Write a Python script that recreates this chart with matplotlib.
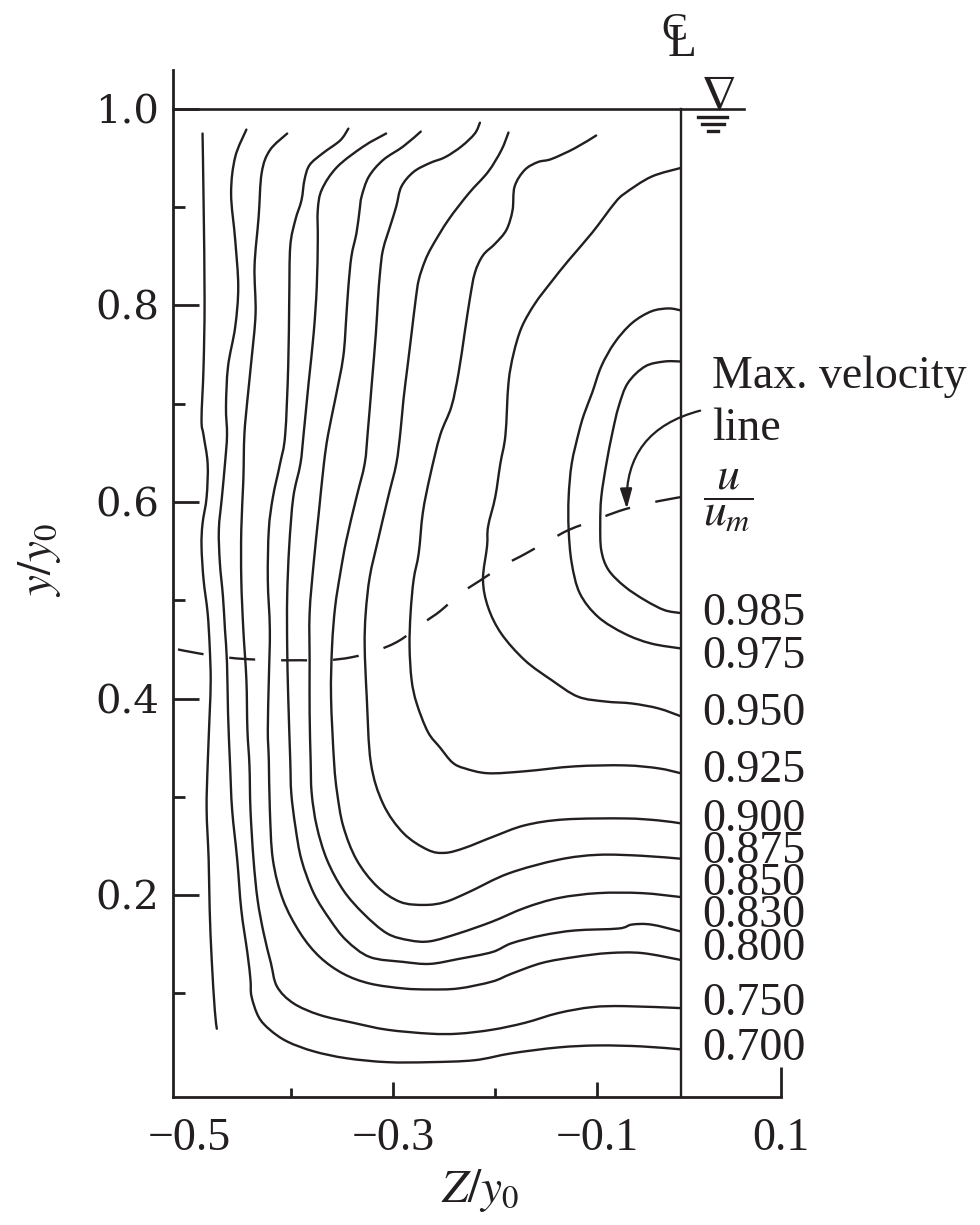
import matplotlib.pyplot as plt
from matplotlib.path import Path
from matplotlib.patches import PathPatch

plt.rcParams['font.family'] = ['Liberation Serif', 'DejaVu Serif']
plt.rcParams['mathtext.fontset'] = 'stix'

INK = '#231f20'

# isovels u/u_m as (Z/y0, y/y0)
z_edge = [-0.487, -0.486, -0.485, -0.486, -0.488, -0.486, -0.482, -0.483, -0.487, -0.488, -0.486,
          -0.482, -0.480, -0.479, -0.480, -0.482, -0.483, -0.481, -0.480, -0.478, -0.475, -0.473]
y_edge = [0.975, 0.907, 0.806, 0.738, 0.684, 0.668, 0.639, 0.605, 0.578, 0.555, 0.521,
          0.487, 0.453, 0.419, 0.385, 0.332, 0.287, 0.236, 0.185, 0.134, 0.083, 0.064]

z_700 = [-0.444, -0.455, -0.459, -0.455, -0.452, -0.455, -0.462, -0.464, -0.463, -0.465, -0.468,
         -0.471, -0.470, -0.467, -0.465, -0.463, -0.462, -0.460, -0.458, -0.453, -0.449, -0.443,
         -0.440, -0.439, -0.432, -0.421, -0.404, -0.378, -0.346, -0.306, -0.264, -0.220, -0.184,
         -0.138, -0.099, -0.056, -0.018]
y_700 = [0.979, 0.951, 0.914, 0.867, 0.819, 0.778, 0.738, 0.697, 0.668, 0.639, 0.605,
         0.572, 0.538, 0.504, 0.470, 0.436, 0.385, 0.332, 0.287, 0.236, 0.185, 0.141,
         0.114, 0.097, 0.076, 0.063, 0.051, 0.041, 0.034, 0.030, 0.030, 0.032, 0.039,
         0.045, 0.047, 0.046, 0.043]

z_750 = [-0.404, -0.421, -0.429, -0.432, -0.436, -0.435, -0.439, -0.443, -0.446, -0.447, -0.449,
         -0.449, -0.447, -0.444, -0.443, -0.441, -0.440, -0.437, -0.433, -0.427, -0.420, -0.414,
         -0.398, -0.372, -0.339, -0.306, -0.264, -0.236, -0.203, -0.171, -0.138, -0.105, -0.073,
         -0.018]
y_750 = [0.975, 0.958, 0.935, 0.890, 0.840, 0.792, 0.745, 0.704, 0.668, 0.622, 0.572,
         0.521, 0.470, 0.419, 0.368, 0.332, 0.287, 0.236, 0.195, 0.161, 0.131, 0.107,
         0.090, 0.078, 0.070, 0.063, 0.059, 0.059, 0.063, 0.070, 0.080, 0.086, 0.087,
         0.085]

z_800 = [-0.344, -0.352, -0.369, -0.382, -0.387, -0.390, -0.396, -0.401, -0.402, -0.403, -0.406,
         -0.411, -0.418, -0.422, -0.423, -0.421, -0.422, -0.423, -0.422, -0.421, -0.418, -0.408,
         -0.391, -0.372, -0.349, -0.323, -0.290, -0.264, -0.236, -0.203, -0.184, -0.154, -0.122,
         -0.089, -0.056, -0.018]
y_800 = [0.980, 0.968, 0.955, 0.943, 0.928, 0.907, 0.887, 0.860, 0.806, 0.738, 0.668,
         0.639, 0.605, 0.572, 0.521, 0.470, 0.419, 0.368, 0.337, 0.287, 0.236, 0.195,
         0.161, 0.137, 0.120, 0.110, 0.105, 0.104, 0.105, 0.112, 0.120, 0.131, 0.137,
         0.141, 0.141, 0.134]

z_830 = [-0.307, -0.329, -0.355, -0.370, -0.374, -0.374, -0.375, -0.378, -0.383, -0.388, -0.391,
         -0.398, -0.402, -0.404, -0.404, -0.403, -0.401, -0.400, -0.396, -0.390, -0.378, -0.362,
         -0.346, -0.323, -0.290, -0.264, -0.236, -0.203, -0.184, -0.154, -0.122, -0.079, -0.066,
         -0.047, -0.018]
y_830 = [0.975, 0.962, 0.941, 0.918, 0.897, 0.867, 0.819, 0.772, 0.721, 0.668, 0.639,
         0.605, 0.555, 0.504, 0.453, 0.402, 0.337, 0.304, 0.270, 0.236, 0.202, 0.175,
         0.154, 0.137, 0.132, 0.130, 0.135, 0.142, 0.151, 0.159, 0.164, 0.166, 0.170,
         0.170, 0.163]

z_850 = [-0.273, -0.290, -0.310, -0.324, -0.331, -0.333, -0.336, -0.341, -0.344, -0.346, -0.349,
         -0.357, -0.364, -0.368, -0.373, -0.378, -0.382, -0.382, -0.382, -0.381, -0.380, -0.375,
         -0.365, -0.349, -0.329, -0.306, -0.284, -0.264, -0.236, -0.203, -0.171, -0.138, -0.099,
         -0.056, -0.018]
y_850 = [0.977, 0.962, 0.948, 0.931, 0.911, 0.897, 0.874, 0.850, 0.819, 0.789, 0.748,
         0.704, 0.668, 0.639, 0.589, 0.538, 0.487, 0.436, 0.385, 0.337, 0.304, 0.270,
         0.236, 0.205, 0.181, 0.161, 0.154, 0.153, 0.161, 0.173, 0.187, 0.197, 0.202,
         0.202, 0.198]

z_875 = [-0.215, -0.220, -0.233, -0.249, -0.264, -0.280, -0.292, -0.297, -0.302, -0.310, -0.313,
         -0.315, -0.317, -0.321, -0.325, -0.328, -0.336, -0.346, -0.352, -0.357, -0.360, -0.361,
         -0.358, -0.355, -0.349, -0.336, -0.316, -0.293, -0.269, -0.249, -0.226, -0.187, -0.138,
         -0.099, -0.056, -0.018]
y_875 = [0.986, 0.975, 0.962, 0.951, 0.945, 0.936, 0.921, 0.901, 0.884, 0.857, 0.833,
         0.806, 0.772, 0.721, 0.671, 0.639, 0.605, 0.561, 0.527, 0.493, 0.453, 0.402,
         0.335, 0.304, 0.270, 0.236, 0.209, 0.193, 0.190, 0.193, 0.203, 0.222, 0.236,
         0.241, 0.240, 0.237]

z_900 = [-0.187, -0.194, -0.207, -0.226, -0.246, -0.262, -0.269, -0.275, -0.278, -0.282, -0.286,
         -0.290, -0.293, -0.297, -0.305, -0.315, -0.323, -0.327, -0.328, -0.326, -0.322, -0.310,
         -0.290, -0.266, -0.249, -0.230, -0.203, -0.171, -0.132, -0.073, -0.040, -0.018]
y_900 = [0.976, 0.958, 0.936, 0.914, 0.887, 0.860, 0.845, 0.826, 0.806, 0.772, 0.738,
         0.704, 0.671, 0.639, 0.605, 0.561, 0.524, 0.487, 0.453, 0.402, 0.335, 0.293,
         0.263, 0.246, 0.243, 0.248, 0.259, 0.271, 0.277, 0.278, 0.276, 0.273]

z_925 = [-0.101, -0.122, -0.145, -0.158, -0.171, -0.181, -0.183, -0.189, -0.200, -0.212, -0.220,
         -0.225, -0.230, -0.236, -0.243, -0.254, -0.264, -0.271, -0.275, -0.280, -0.283, -0.284,
         -0.282, -0.277, -0.266, -0.254, -0.242, -0.230, -0.207, -0.171, -0.122, -0.073, -0.040,
         -0.018]
y_925 = [0.973, 0.960, 0.949, 0.946, 0.938, 0.921, 0.897, 0.877, 0.863, 0.851, 0.833,
         0.806, 0.772, 0.731, 0.697, 0.668, 0.626, 0.589, 0.548, 0.521, 0.487, 0.453,
         0.419, 0.395, 0.366, 0.350, 0.335, 0.329, 0.324, 0.326, 0.331, 0.332, 0.329,
         0.324]

z_950 = [-0.018, -0.047, -0.073, -0.083, -0.105, -0.128, -0.145, -0.161, -0.174, -0.182, -0.187,
         -0.190, -0.195, -0.200, -0.207, -0.208, -0.212, -0.207, -0.194, -0.171, -0.145, -0.119,
         -0.092, -0.066, -0.040, -0.018]
y_950 = [0.940, 0.931, 0.914, 0.904, 0.874, 0.846, 0.824, 0.802, 0.778, 0.751, 0.721,
         0.668, 0.639, 0.605, 0.575, 0.555, 0.521, 0.493, 0.466, 0.439, 0.419, 0.402,
         0.397, 0.395, 0.390, 0.382]

z_975 = [-0.018, -0.030, -0.047, -0.066, -0.083, -0.096, -0.105, -0.113, -0.118, -0.125, -0.128,
         -0.128, -0.125, -0.117, -0.099, -0.073, -0.047, -0.018]
y_975 = [0.795, 0.797, 0.794, 0.782, 0.762, 0.738, 0.711, 0.689, 0.671, 0.639, 0.605,
         0.572, 0.538, 0.507, 0.483, 0.466, 0.456, 0.451]

z_985 = [-0.018, -0.034, -0.053, -0.070, -0.079, -0.085, -0.091, -0.096, -0.097, -0.096, -0.089,
         -0.073, -0.053, -0.034, -0.018]
y_985 = [0.743, 0.743, 0.738, 0.721, 0.697, 0.671, 0.639, 0.605, 0.578, 0.551, 0.531,
         0.514, 0.500, 0.490, 0.487]

# max. velocity line
z_max = [-0.018, -0.029, -0.053, -0.078, -0.101, -0.127, -0.147, -0.171, -0.191, -0.215, -0.234,
         -0.254, -0.269, -0.294, -0.316, -0.341, -0.365, -0.391, -0.416, -0.441, -0.465, -0.491,
         -0.516]
y_max = [0.605, 0.603, 0.598, 0.591, 0.582, 0.572, 0.561, 0.547, 0.536, 0.520, 0.507,
         0.489, 0.478, 0.459, 0.449, 0.442, 0.439, 0.439, 0.439, 0.440, 0.442, 0.446,
         0.451]

z_centre = -0.018
level_labels = ['0.985', '0.975', '0.950', '0.925', '0.900', '0.875',
                '0.850', '0.830', '0.800', '0.750', '0.700']
label_y = [0.475, 0.431, 0.373, 0.315, 0.265, 0.233, 0.200, 0.168, 0.134, 0.078, 0.032]

isovels = [(z_edge, y_edge), (z_700, y_700), (z_750, y_750), (z_800, y_800),
           (z_830, y_830), (z_850, y_850), (z_875, y_875), (z_900, y_900),
           (z_925, y_925), (z_950, y_950), (z_975, y_975), (z_985, y_985)]


def smooth_path(xs, ys):
    # catmull-rom through the traced points, drawn as cubic bezier pieces
    pts = list(zip(xs, ys))
    verts = [pts[0]]
    codes = [Path.MOVETO]
    n = len(pts)
    for i in range(n - 1):
        p0 = pts[max(i - 1, 0)]
        p1 = pts[i]
        p2 = pts[i + 1]
        p3 = pts[min(i + 2, n - 1)]
        c1 = (p1[0] + (p2[0] - p0[0]) / 6, p1[1] + (p2[1] - p0[1]) / 6)
        c2 = (p2[0] - (p3[0] - p1[0]) / 6, p2[1] - (p3[1] - p1[1]) / 6)
        verts += [c1, c2, p2]
        codes += [Path.CURVE4] * 3
    return Path(verts, codes)


fig = plt.figure(figsize=(9.8, 12.25), dpi=100)
ax = fig.add_axes([0.1765, 0.1047, 0.6204, 0.8382])
ax.set_xlim(-0.516, 0.0802)
ax.set_ylim(-0.0052, 1.0397)

for s in ['top', 'right']:
    ax.spines[s].set_visible(False)
for s in ['left', 'bottom']:
    ax.spines[s].set_linewidth(2.0)
    ax.spines[s].set_color(INK)

for z, y in isovels:
    ax.add_patch(PathPatch(smooth_path(z, y), fill=False, edgecolor=INK, lw=1.7,
                           capstyle='round', joinstyle='round'))

ax.add_patch(PathPatch(smooth_path(z_max, y_max), fill=False, edgecolor=INK, lw=1.7,
                       linestyle=(0, (11, 11))))

# channel centre line and free surface
ax.plot([z_centre, z_centre], [-0.0052, 1.0], color=INK, lw=1.7)
ax.plot([-0.516, 0.044], [1.0, 1.0], color=INK, lw=1.9, clip_on=False)
ax.text(0.0185, 0.9985, r'$\nabla$', fontsize=36, ha='center', va='baseline', color=INK)
ax.plot([-0.001, 0.027], [0.9916, 0.9916], color=INK, lw=2.4, clip_on=False)
ax.plot([0.003, 0.024], [0.9847, 0.9847], color=INK, lw=2.4, clip_on=False)
ax.plot([0.009, 0.018], [0.9779, 0.9779], color=INK, lw=2.4, clip_on=False)
ax.text(-0.0245, 1.0800, 'C', fontsize=28, ha='center', va='center', color=INK)
ax.text(-0.0165, 1.0650, 'L', fontsize=34, ha='center', va='center', color=INK)

for lab, yl in zip(level_labels, label_y):
    ax.text(0.0035, yl, lab, fontsize=33, ha='left', va='baseline', color=INK)

ax.text(0.0035, 0.602, r'$\dfrac{u}{u_m}$', fontsize=33, ha='left', va='center', color=INK)
ax.text(0.0125, 0.716, 'Max. velocity', fontsize=33, ha='left', va='baseline', color=INK)
ax.text(0.0125, 0.663, 'line', fontsize=33, ha='left', va='baseline', color=INK)
ax.annotate('', xy=(-0.071, 0.593), xytext=(0.001, 0.693),
            arrowprops=dict(arrowstyle='-|>,head_length=0.6,head_width=0.18',
                            connectionstyle='arc3,rad=0.4', color=INK, lw=1.6,
                            shrinkA=0, shrinkB=0, mutation_scale=20),
            annotation_clip=False)

# ticks
ax.set_xticks([-0.5, -0.3, -0.1, 0.0802], labels=['\u22120.5', '\u22120.3', '\u22120.1', '0.1'])
ax.set_xticks([-0.4, -0.2], minor=True)
ax.set_yticks([0.2, 0.4, 0.6, 0.8, 1.0], labels=['0.2', '0.4', '0.6', '0.8', '1.0'])
ax.set_yticks([0.1, 0.3, 0.5, 0.7, 0.9], minor=True)
ax.tick_params(which='both', direction='in', width=2.0, color=INK, labelcolor=INK)
ax.tick_params(axis='y', which='major', length=18.7, pad=10, labelsize=29)
ax.tick_params(axis='y', which='minor', length=8.6)
ax.tick_params(axis='x', which='major', length=10.8, pad=15, labelsize=33)
ax.tick_params(axis='x', which='minor', length=6.5)
for lbl in ax.get_yticklabels():
    lbl.set_fontfamily('DejaVu Serif')
xt = ax.xaxis.get_major_ticks()
xt[0].tick1line.set_visible(False)
xt[3].tick1line.set_markersize(21.6)

ax.set_xlabel(r'$Z/y_0$', fontsize=34, color=INK, ha='center', va='center')
ax.xaxis.set_label_coords(0.505, -0.091)
ax.set_ylabel(r'$y/y_0$', fontsize=34, color=INK, ha='center', va='center')
ax.yaxis.set_label_coords(-0.219, 0.523)

fig.savefig('out.png', dpi=100)
